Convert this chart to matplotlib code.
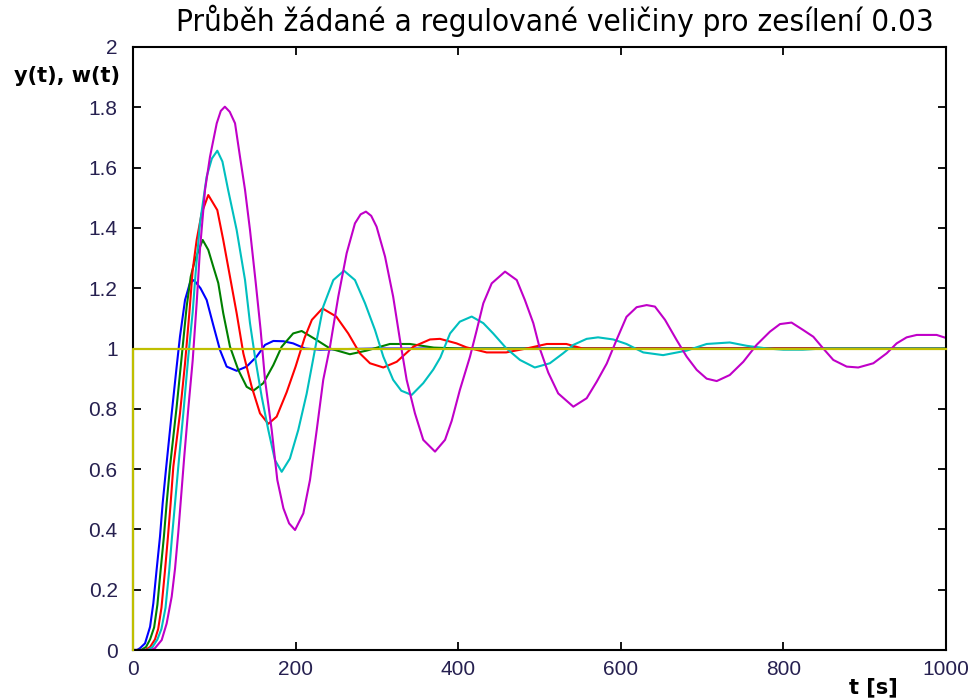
import matplotlib
matplotlib.use("Agg")
import matplotlib.pyplot as plt

# values
t_blue = [0, 5, 8.6, 14.8, 21, 25, 29, 33.2, 36.5, 40.6, 47.6, 53.7, 57.8, 64, 70, 75, 83, 90.6,
          98.8, 107, 115.2, 127.5, 139.8, 152, 162.4, 172.6, 185, 197, 211.6, 230, 260, 300, 1000]
y_blue = [0, 0, 0.006, 0.022, 0.077, 0.155, 0.265, 0.376, 0.487, 0.6, 0.785, 0.94, 1.04, 1.161,
          1.217, 1.227, 1.2, 1.161, 1.077, 0.995, 0.94, 0.926, 0.94, 0.973, 1.012, 1.025, 1.024,
          1.017, 1.0, 0.996, 0.998, 1.0, 1.0]

t_green = [0, 10, 16, 21, 26, 30, 34, 38, 41.4, 45.5, 53.7, 59.9, 66, 71, 76.3, 85.7, 92.6, 98.8,
           104.9, 111, 119.3, 129.5, 139.8, 148, 160.3, 172.6, 182.9, 197, 207.5, 226, 242.3,
           266.8, 287.3, 316, 340.6, 370, 400, 1000]
y_green = [0, 0, 0.01, 0.035, 0.075, 0.15, 0.265, 0.376, 0.487, 0.608, 0.807, 0.973, 1.139, 1.238,
           1.294, 1.36, 1.327, 1.271, 1.217, 1.117, 1.006, 0.929, 0.873, 0.86, 0.885, 0.945, 1.006,
           1.05, 1.058, 1.028, 1.0, 0.981, 0.993, 1.015, 1.015, 1.003, 1.0, 1.0]

t_red = [0, 15, 21, 27, 31, 35, 39.4, 43, 46.3, 49.6, 57.8, 64, 69.3, 73.4, 78.3, 84.5, 92.6, 103.7,
         111, 119.3, 127.5, 135.7, 146, 156.2, 166.4, 176.7, 189, 200, 211, 220, 233, 250, 264.7,
         279, 291.5, 307.9, 324.4, 344.8, 365.3, 377.6, 398, 410, 435, 459, 484, 509, 533, 553,
         580, 1000]
y_red = [0, 0, 0.01, 0.035, 0.07, 0.14, 0.265, 0.376, 0.487, 0.608, 0.785, 0.951, 1.117, 1.26, 1.36,
         1.449, 1.509, 1.459, 1.36, 1.238, 1.117, 0.984, 0.873, 0.785, 0.75, 0.774, 0.855, 0.94,
         1.035, 1.095, 1.133, 1.106, 1.05, 0.984, 0.951, 0.937, 0.956, 1.006, 1.03, 1.032, 1.017,
         1.004, 0.987, 0.987, 1.0, 1.015, 1.015, 1.0, 1.0, 1.0]

t_cyan = [0, 18, 24, 30, 35, 40, 44.6, 48, 51.7, 55.7, 61.9, 68, 73.4, 77, 82.4, 90.6, 97, 103.7,
          110, 117, 127.5, 137.8, 143.9, 150, 158.3, 166.4, 174.6, 182.9, 193, 203.3, 213.6, 226,
          234, 246.4, 259.5, 273, 285.4, 297.7, 307.9, 320, 330, 342.8, 357, 369.3, 378, 390, 402,
          416.6, 430.9, 443, 459.4, 476, 494.2, 512.7, 529, 541.6, 558, 572, 590.7, 607, 627.6,
          652, 681, 705.6, 734, 754.8, 780, 800, 824, 849, 1000]
y_cyan = [0, 0, 0.01, 0.035, 0.07, 0.14, 0.265, 0.376, 0.487, 0.608, 0.785, 0.973, 1.12, 1.25,
          1.416, 1.57, 1.63, 1.656, 1.62, 1.526, 1.393, 1.227, 1.084, 0.973, 0.84, 0.73, 0.63,
          0.591, 0.635, 0.73, 0.85, 1.028, 1.139, 1.227, 1.258, 1.227, 1.15, 1.061, 0.973, 0.896,
          0.86, 0.846, 0.885, 0.93, 0.97, 1.05, 1.089, 1.106, 1.084, 1.05, 1.0, 0.962, 0.937,
          0.951, 0.984, 1.012, 1.032, 1.037, 1.03, 1.015, 0.987, 0.978, 0.993, 1.015, 1.02, 1.009,
          1.0, 0.996, 0.996, 1.0, 1.0]

t_magenta = [0, 22, 27, 35.3, 41.4, 47.6, 51.7, 55.7, 59.5, 63, 68, 73.4, 78.3, 82.4, 88.6, 94.7,
             103, 108, 113, 119, 125.5, 131.6, 137.8, 143.9, 151, 157, 162.4, 170.6, 177.5, 185,
             192, 199.3, 209.5, 217.7, 226, 234, 242.3, 252.5, 262.8, 273, 280, 286.5, 293, 299.6,
             310, 320, 328.4, 336.6, 346.8, 357, 371.5, 383.8, 392, 402, 414.5, 422.8, 430.9,
             441.2, 457.6, 472, 482, 492.4, 500.6, 510.8, 523, 541.6, 558, 570.4, 582.7, 595, 607,
             619.5, 631.8, 642, 654.4, 668.7, 681, 693.4, 705.6, 718, 734, 750.7, 767, 783.5,
             795.8, 810, 824.5, 836.8, 849, 861.4, 877.8, 892, 910.6, 927, 939.3, 951.6, 964,
             988.5, 1000]
y_magenta = [0, 0, 0.006, 0.033, 0.088, 0.177, 0.27, 0.39, 0.52, 0.64, 0.8, 0.96, 1.15, 1.33,
             1.526, 1.636, 1.747, 1.788, 1.802, 1.785, 1.747, 1.636, 1.526, 1.393, 1.217, 1.061,
             0.896, 0.73, 0.564, 0.47, 0.42, 0.398, 0.453, 0.564, 0.73, 0.896, 1.006, 1.172, 1.316,
             1.415, 1.445, 1.454, 1.44, 1.404, 1.305, 1.172, 1.028, 0.896, 0.785, 0.697, 0.658,
             0.697, 0.76, 0.862, 0.973, 1.061, 1.15, 1.216, 1.255, 1.227, 1.161, 1.084, 0.998,
             0.92, 0.851, 0.807, 0.835, 0.89, 0.95, 1.03, 1.105, 1.137, 1.144, 1.139, 1.095, 1.028,
             0.973, 0.929, 0.9, 0.892, 0.912, 0.956, 1.012, 1.056, 1.081, 1.086, 1.061, 1.039, 1.0,
             0.962, 0.94, 0.937, 0.951, 0.984, 1.017, 1.037, 1.045, 1.045, 1.035]

# setpoint w(t): step to 1 at t = 0
t_w = [0, 0, 1000]
y_w = [0, 1, 1]

x_ticks = [0, 200, 400, 600, 800, 1000]
y_ticks = [0, 0.2, 0.4, 0.6, 0.8, 1, 1.2, 1.4, 1.6, 1.8, 2]
y_tick_labels = ['0', '0.2', '0.4', '0.6', '0.8', '1', '1.2', '1.4', '1.6', '1.8', '2']

title = 'Průběh žádané a regulované veličiny pro zesílení 0.03'

fig = plt.figure(figsize=(9.77, 7.0), dpi=100)
ax = fig.add_axes([133 / 977, 50 / 700, 813 / 977, 603 / 700])

# matlab default colour order
series = [(t_blue, y_blue, '#0000ff'),
          (t_green, y_green, '#008000'),
          (t_red, y_red, '#ff0000'),
          (t_cyan, y_cyan, '#00bfbf'),
          (t_magenta, y_magenta, '#c000c8')]
for t, y, c in series:
    ax.plot(t, y, color=c, lw=1.5)
ax.plot(t_w, y_w, color='#bfbf00', lw=1.6, clip_on=False, zorder=3)

ax.set_xlim(0, 1000)
ax.set_ylim(0, 2)
ax.set_xticks(x_ticks)
ax.set_yticks(y_ticks)
ax.set_yticklabels(y_tick_labels)
ax.tick_params(direction='in', length=6, width=1.3, top=True, right=True,
               labelsize=15, labelcolor='#262050')
ax.tick_params(axis='x', pad=7)
ax.tick_params(axis='y', pad=11)
for lab in ax.get_xticklabels() + ax.get_yticklabels():
    lab.set_family('Liberation Sans')
for s in ax.spines.values():
    s.set_linewidth(1.5)

fig.text(555 / 977, 1 - 21 / 700, title, ha='center', va='center', fontsize=22.5,
         family='DejaVu Sans', fontstretch='condensed')
fig.text(67 / 977, 1 - 76 / 700, 'y(t), w(t)', ha='center', va='center', fontsize=15,
         fontweight='bold', family='DejaVu Sans')
fig.text(873 / 977, 1 - 687 / 700, 't [s]', ha='center', va='center', fontsize=15,
         fontweight='bold', family='DejaVu Sans')

fig.savefig('out.png', dpi=100)
